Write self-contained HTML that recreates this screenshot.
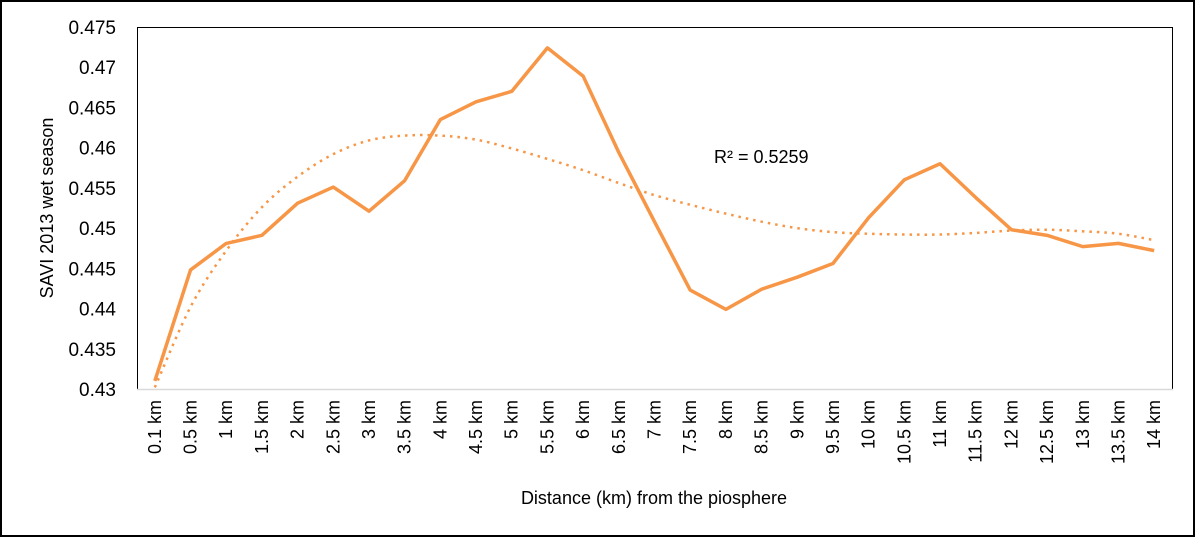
<!DOCTYPE html>
<html><head><meta charset="utf-8"><style>
html,body{margin:0;padding:0;background:#fff}
#wrap{position:relative;width:1195px;height:537px;box-sizing:border-box;border:2px solid #000;overflow:hidden}
svg{position:absolute;left:0;top:0}
text{font-family:"Liberation Sans",sans-serif;fill:#000}
</style></head><body>
<div id="wrap">
<svg id="chart" width="1195" height="537"></svg>
</div>
<script>
const categories=["0.1 km","0.5 km","1 km","1.5 km","2 km","2.5 km","3 km","3.5 km","4 km","4.5 km","5 km","5.5 km","6 km","6.5 km","7 km","7.5 km","8 km","8.5 km","9 km","9.5 km","10 km","10.5 km","11 km","11.5 km","12 km","12.5 km","13 km","13.5 km","14 km"];
const saviValues=[0.431,0.4448,0.4481,0.4491,0.4531,0.4551,0.4521,0.4559,0.4635,0.4657,0.467,0.4724,0.4689,0.4594,0.4508,0.4423,0.4399,0.4424,0.4439,0.4456,0.4513,0.456,0.458,0.4538,0.4498,0.4491,0.4477,0.4481,0.4472];
const trendValues=[0.4302,0.4402,0.4472,0.4526,0.4564,0.4592,0.4609,0.4615,0.4615,0.4610,0.4599,0.4586,0.4572,0.4556,0.4541,0.4529,0.4518,0.4508,0.4500,0.4495,0.4493,0.4492,0.4492,0.4494,0.4497,0.4498,0.4496,0.4493,0.4485];
const yTicks=[0.43,0.435,0.44,0.445,0.45,0.455,0.46,0.465,0.47,0.475];
const yTickLabels=["0.43","0.435","0.44","0.445","0.45","0.455","0.46","0.465","0.47","0.475"];
const r2Label="R² = 0.5259";

const NS="http://www.w3.org/2000/svg";
const svg=document.getElementById('chart');
const L=135,R=1170,T=25,B=387,yMin=0.43,yMax=0.475;
const band=(R-L)/categories.length;
function xPos(i){return L+band*(i+0.5);}
function yPos(v){return B-(v-yMin)/(yMax-yMin)*(B-T);}
function mk(tag,attrs,parent){const e=document.createElementNS(NS,tag);for(const k in attrs)e.setAttribute(k,attrs[k]);(parent||svg).appendChild(e);return e;}

const plot=mk('rect',{x:L+0.5,y:T+0.5,width:R-L,height:B-T,fill:'none',stroke:'#000','stroke-width':1});


const base=mk('line',{x1:L,x2:R+1,y1:B+0.5,y2:B+0.5,stroke:'#d9d9d9','stroke-width':1.5});



yTicks.forEach((v,i)=>{
  const t=mk('text',{x:114,y:yPos(v)+7,'text-anchor':'end','font-size':19});
  t.textContent=yTickLabels[i];
  
  
});
categories.forEach((c,i)=>{
  const x=xPos(i),y=398;
  const t=mk('text',{x:x,y:y,transform:`rotate(-90 ${x} ${y})`,'text-anchor':'end','font-size':18,dy:6});
  t.textContent=c;
  
  
});
const yt=mk('text',{x:0,y:0,transform:'translate(51 206) rotate(-90)','text-anchor':'middle','font-size':18});
yt.textContent='SAVI 2013 wet season';


const xt=mk('text',{x:652,y:502,'text-anchor':'middle','font-size':18});
xt.textContent='Distance (km) from the piosphere';



// smooth trendline through read trend values (Catmull-Rom)
const tp=trendValues.map((v,i)=>[xPos(i),yPos(v)]);
let d='M'+tp[0][0].toFixed(2)+' '+tp[0][1].toFixed(2);
for(let i=0;i<tp.length-1;i++){
  const p0=tp[Math.max(0,i-1)],p1=tp[i],p2=tp[i+1],p3=tp[Math.min(tp.length-1,i+2)];
  const c1=[p1[0]+(p2[0]-p0[0])/6,p1[1]+(p2[1]-p0[1])/6];
  const c2=[p2[0]-(p3[0]-p1[0])/6,p2[1]-(p3[1]-p1[1])/6];
  d+=`C${c1[0].toFixed(2)} ${c1[1].toFixed(2)} ${c2[0].toFixed(2)} ${c2[1].toFixed(2)} ${p2[0].toFixed(2)} ${p2[1].toFixed(2)}`;
}
const tr=mk('path',{d:d,fill:'none',stroke:'#f79646','stroke-width':2.5,'stroke-dasharray':'2.5 5'});



const pts=saviValues.map((v,i)=>xPos(i).toFixed(2)+','+yPos(v).toFixed(2)).join(' ');
const line=mk('polyline',{points:pts,fill:'none',stroke:'#f79646','stroke-width':3.5,'stroke-linejoin':'round'});



const r2=mk('text',{x:712,y:161,'font-size':18});
r2.textContent=r2Label;


</script>
</body></html>
